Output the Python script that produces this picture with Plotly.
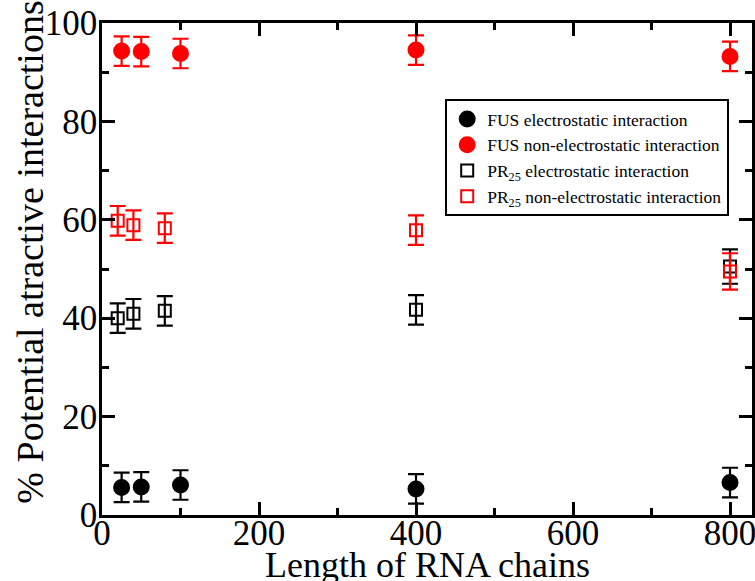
import plotly.graph_objects as go

# Data
fus_x = [25, 50, 100, 400, 800]
fus_elec = [5.6, 5.7, 6.1, 5.3, 6.6]
fus_elec_err = [3.0, 3.0, 3.0, 3.0, 3.0]
fus_nonelec = [94.3, 94.2, 93.8, 94.5, 93.2]
fus_nonelec_err = [3.0, 3.0, 3.0, 3.0, 3.0]

pr_x = [20, 40, 80, 400, 800]
pr_elec = [40.0, 40.9, 41.5, 41.7, 50.5]
pr_elec_err = [3.0, 3.0, 3.0, 3.0, 3.5]
pr_nonelec = [59.8, 58.9, 58.3, 57.9, 49.5]
pr_nonelec_err = [3.0, 3.0, 3.0, 3.0, 3.7]

x_title = "Length of RNA chains"
y_title = "% Potential atractive interactions"

FONT = "Liberation Serif, Times New Roman, serif"

fig = go.Figure()

def add(x, y, err, name, color, symbol, size):
    fig.add_trace(go.Scatter(
        x=x, y=y, mode="markers", name=name,
        marker=dict(color=color, symbol=symbol, size=size,
                    line=dict(width=2, color=color)),
        error_y=dict(type="data", array=err, visible=True,
                     color=color, thickness=2.2, width=8),
    ))

add(fus_x, fus_elec, fus_elec_err, "FUS electrostatic interaction", "black", "circle", 15)
add(fus_x, fus_nonelec, fus_nonelec_err, "FUS non-electrostatic interaction", "red", "circle", 15)
add(pr_x, pr_elec, pr_elec_err, "PR<sub>25</sub> electrostatic interaction", "black", "square-open", 12)
add(pr_x, pr_nonelec, pr_nonelec_err, "PR<sub>25</sub> non-electrostatic interaction", "red", "square-open", 12)

axis_common = dict(
    showline=True, linecolor="black", linewidth=2.5, mirror="ticks",
    ticks="inside", ticklen=13, tickwidth=2.5, tickcolor="black",
    showgrid=False, zeroline=False, automargin=False,
    ticklabeloverflow="allow",
    tickfont=dict(family=FONT, size=35, color="black"),
)

fig.update_layout(
    width=755, height=581,
    margin=dict(l=102, r=3, t=23, b=66),
    paper_bgcolor="white", plot_bgcolor="white",
    font=dict(family=FONT, color="black"),
    xaxis=dict(range=[0, 828], dtick=200, tick0=0, ticklabelstandoff=-15,
               minor=dict(dtick=100, ticklen=7, tickwidth=2.5, tickcolor="black", ticks="inside"),
               **axis_common),
    yaxis=dict(range=[0, 100], dtick=20, tick0=0, ticklabelstandoff=-5,
               minor=dict(dtick=10, ticklen=7, tickwidth=2.5, tickcolor="black", ticks="inside"),
               **axis_common),
    legend=dict(x=0.528, y=0.8455, xanchor="left", yanchor="top",
                bordercolor="black", borderwidth=2, bgcolor="white",
                font=dict(family=FONT, size=17.5, color="black"),
                tracegroupgap=0, itemsizing="trace"),
    showlegend=True,
    annotations=[
        dict(text=x_title, xref="paper", yref="paper", x=0.5, y=-0.1016,
             xanchor="center", yanchor="middle", showarrow=False,
             font=dict(family=FONT, size=36, color="black")),
        dict(text=y_title, xref="paper", yref="paper", x=-0.111, y=0.535,
             xanchor="center", yanchor="middle", showarrow=False, textangle=-90,
             font=dict(family=FONT, size=38, color="black")),
    ],
)

fig.write_html(
    "out.html",
    config={"displayModeBar": False},
    post_script="document.body.style.margin='0';document.body.style.overflow='hidden';",
)
